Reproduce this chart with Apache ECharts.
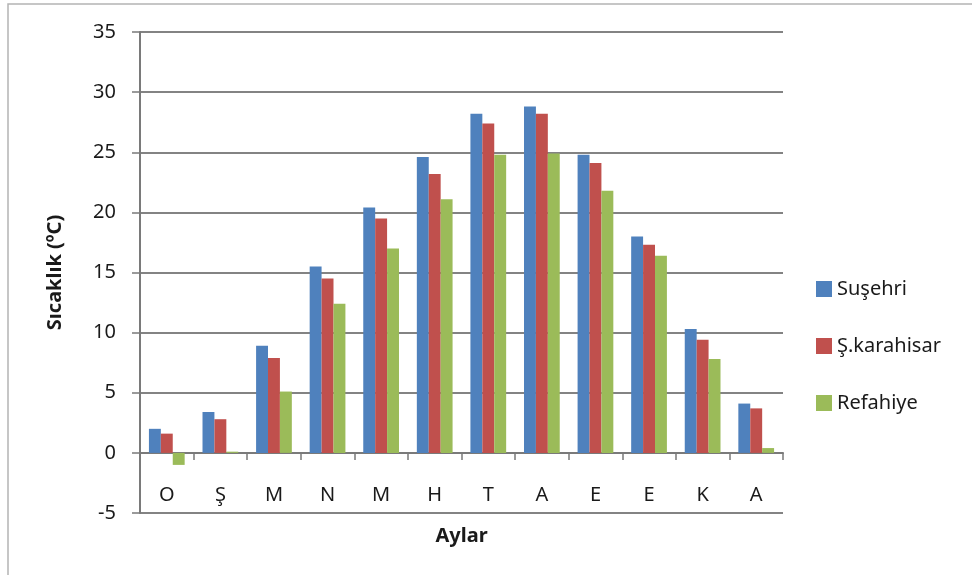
<!DOCTYPE html>
<html>
<head>
<meta charset="utf-8">
<script src="https://cdn.jsdelivr.net/npm/echarts@6/dist/echarts.min.js"></script>
<style>
  html, body { margin: 0; padding: 0; background: #fff; }
  #chart { width: 972px; height: 575px; }
</style>
</head>
<body>
<div id="chart"></div>
<script>
// Monthly mean temperatures (°C) for three stations
const months = ['O', 'Ş', 'M', 'N', 'M', 'H', 'T', 'A', 'E', 'E', 'K', 'A'];
const susehri = [2.0, 3.4, 8.9, 15.5, 20.4, 24.6, 28.2, 28.8, 24.8, 18.0, 10.3, 4.1];
const karahisar = [1.6, 2.8, 7.9, 14.5, 19.5, 23.2, 27.4, 28.2, 24.1, 17.3, 9.4, 3.7];
const refahiye = [-1.0, 0.1, 5.1, 12.4, 17.0, 21.1, 24.8, 24.9, 21.8, 16.4, 7.8, 0.4];
const seriesNames = ['Suşehri', 'Ş.karahisar', 'Refahiye'];
const seriesColors = ['#4F81BD', '#C0504D', '#9BBB59'];
const yTicks = { min: -5, max: 35, step: 5 };

const FONT = 'Noto Sans';
const GRID = { left: 140, right: 189, top: 32, bottom: 62 };
const PLOT_H = 575 - GRID.top - GRID.bottom;
// shift the category axis up from the grid bottom to the zero line
const zeroShift = PLOT_H * (0 - yTicks.min) / (yTicks.max - yTicks.min);

const chart = echarts.init(document.getElementById('chart'));

const makeBar = (name, data, color) => ({
  name: name,
  type: 'bar',
  data: data,
  barGap: '0%',
  barCategoryGap: '33.3%',
  itemStyle: { color: color },
  emphasis: { disabled: true }
});

chart.setOption({
  animation: false,
  textStyle: { fontFamily: FONT },
  graphic: [{
    type: 'rect',
    shape: { x: 8, y: 4, width: 1000, height: 620 },
    style: { fill: 'none', stroke: '#b4b4b4', lineWidth: 1.5 },
    silent: true
  }],
  grid: Object.assign({ containLabel: false, outerBoundsMode: 'none' }, GRID),
  legend: {
    orient: 'vertical',
    left: 811,
    top: 274,
    itemWidth: 16,
    itemHeight: 16,
    itemGap: 37,
    icon: 'rect',
    data: seriesNames,
    textStyle: { fontFamily: FONT, fontSize: 20, color: '#1a1a1a', lineHeight: 20 }
  },
  xAxis: {
    type: 'category',
    data: months,
    position: 'bottom',
    offset: -zeroShift,
    name: 'Aylar',
    nameLocation: 'middle',
    nameGap: 73,
    nameTextStyle: { fontFamily: FONT, fontSize: 20, fontWeight: 'bold', color: '#1a1a1a' },
    axisLine: { onZero: false, lineStyle: { color: '#7a7a7a', width: 2 } },
    axisTick: { show: true, length: 7, lineStyle: { color: '#7a7a7a', width: 1.5 } },
    axisLabel: { fontFamily: FONT, fontSize: 20, color: '#1a1a1a', margin: 32 },
    splitLine: { show: false }
  },
  yAxis: {
    type: 'value',
    min: yTicks.min,
    max: yTicks.max,
    interval: yTicks.step,
    name: 'Sıcaklık (ºC)',
    nameLocation: 'middle',
    nameRotate: 90,
    nameGap: 75,
    nameTextStyle: { fontFamily: FONT, fontSize: 20, fontWeight: 'bold', color: '#1a1a1a' },
    axisLine: { show: true, lineStyle: { color: '#7a7a7a', width: 2 } },
    axisTick: { show: true, length: 8, lineStyle: { color: '#7a7a7a', width: 1.5 } },
    axisLabel: { fontFamily: FONT, fontSize: 20, color: '#1a1a1a', margin: 24 },
    splitLine: { show: true, lineStyle: { color: '#5a5a5a', width: 1.5 } }
  },
  series: [
    makeBar(seriesNames[0], susehri, seriesColors[0]),
    makeBar(seriesNames[1], karahisar, seriesColors[1]),
    makeBar(seriesNames[2], refahiye, seriesColors[2])
  ]
});
</script>
</body>
</html>
